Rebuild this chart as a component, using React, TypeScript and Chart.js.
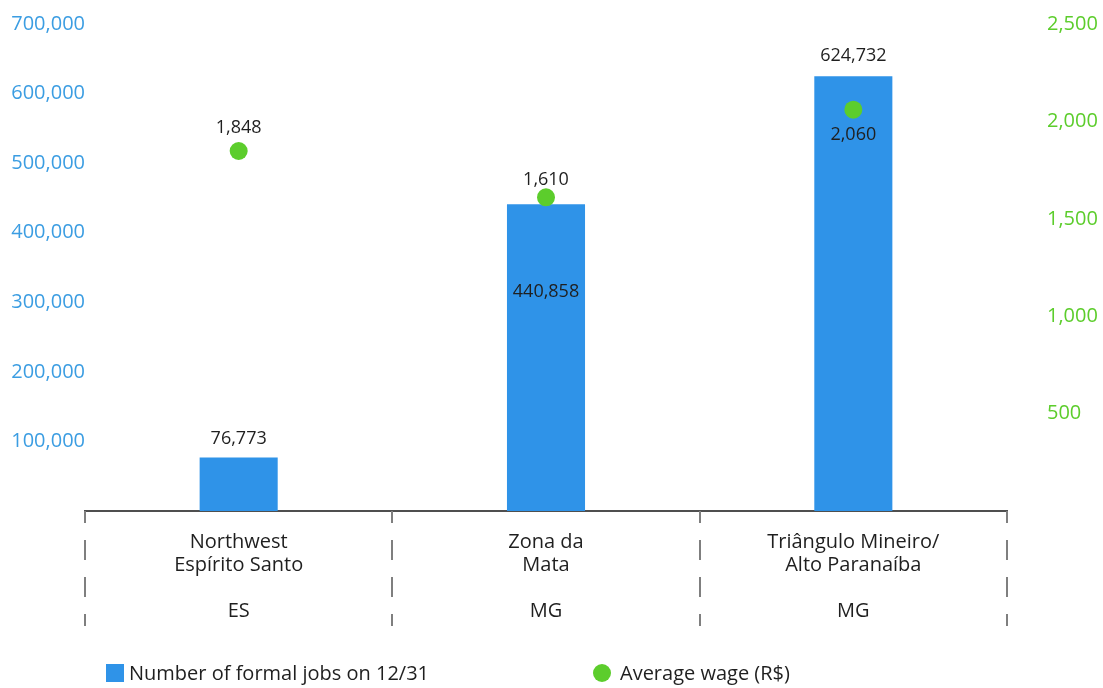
import React, { useEffect, useRef } from "react";
import { Chart, registerables } from "chart.js";

Chart.register(...registerables);

const regions = [
  ["Northwest", "Espírito Santo", "", "ES"],
  ["Zona da", "Mata", "", "MG"],
  ["Triângulo Mineiro/", "Alto Paranaíba", "", "MG"],
];
const formalJobs = [76773, 440858, 624732];
const averageWage = [1848, 1610, 2060];
const jobsTicks = [100000, 200000, 300000, 400000, 500000, 600000, 700000];
const wageTicks = [500, 1000, 1500, 2000, 2500];

const BLUE = "#2f93e8";
const BLUE_TXT = "#3b9de2";
const GREEN = "#5ccd2c";
const FONT = "'Open Sans', 'Noto Sans', sans-serif";
const TXT = "#1f1f1f";

const fmt = (v: number) => v.toLocaleString("en-US");

const overlayPlugin = {
  id: "overlay",
  afterDraw(chart: any) {
    const ctx = chart.ctx;
    const area = chart.chartArea;
    const xs = chart.scales.x;
    ctx.save();
    // dashed category dividers
    ctx.strokeStyle = "#7f7f7f";
    ctx.lineWidth = 2;
    ctx.setLineDash([20, 17]);
    ctx.lineDashOffset = 8;
    for (let i = 0; i <= regions.length; i++) {
      const x = Math.round(xs.getPixelForValue(i - 0.5));
      ctx.beginPath();
      ctx.moveTo(x, area.bottom);
      ctx.lineTo(x, area.bottom + 115);
      ctx.stroke();
    }
    ctx.setLineDash([]);

    // value labels
    ctx.font = `18px ${FONT}`;
    ctx.fillStyle = TXT;
    ctx.textAlign = "center";
    ctx.textBaseline = "middle";
    const barMeta = chart.getDatasetMeta(0);
    const barOffsets = [-19, 88, -20];
    barMeta.data.forEach((el: any, i: number) => {
      ctx.fillText(fmt(formalJobs[i]), el.x, el.y + barOffsets[i]);
    });
    const ptMeta = chart.getDatasetMeta(1);
    const ptOffsets = [-23, -17, 25];
    ptMeta.data.forEach((el: any, i: number) => {
      ctx.fillText(fmt(averageWage[i]), el.x, el.y + ptOffsets[i]);
    });

    // legend
    ctx.font = `20px ${FONT}`;
    ctx.textAlign = "left";
    ctx.fillStyle = BLUE;
    ctx.fillRect(106, 664, 18, 18);
    ctx.fillStyle = TXT;
    ctx.fillText("Number of formal jobs on 12/31", 129, 674);
    ctx.fillStyle = GREEN;
    ctx.beginPath();
    ctx.arc(602, 673, 9, 0, Math.PI * 2);
    ctx.fill();
    ctx.fillStyle = TXT;
    ctx.fillText("Average wage (R$)", 620, 674);
    ctx.restore();
  },
};

export default function App() {
  const ref = useRef<HTMLCanvasElement>(null);
  useEffect(() => {
    if (!ref.current) return;
    const chart = new Chart(ref.current, {
      data: {
        labels: regions,
        datasets: [
          {
            type: "bar",
            label: "Number of formal jobs on 12/31",
            data: formalJobs,
            backgroundColor: BLUE,
            yAxisID: "y",
            categoryPercentage: 1,
            barPercentage: 0.254,
            order: 2,
          },
          {
            type: "line",
            label: "Average wage (R$)",
            data: averageWage,
            yAxisID: "y1",
            showLine: false,
            pointRadius: 9,
            pointBackgroundColor: GREEN,
            pointBorderWidth: 0,
            borderColor: GREEN,
            order: 1,
          },
        ],
      } as any,
      options: {
        animation: false,
        responsive: false,
        devicePixelRatio: 1,
        layout: { padding: { top: 24, left: 0, right: 0, bottom: 0 } },
        plugins: { legend: { display: false }, tooltip: { enabled: false } },
        scales: {
          x: {
            grid: { display: false, drawTicks: false },
            border: { display: true, color: "#4f4f4f", width: 2 },
            ticks: {
              color: TXT,
              font: { family: FONT, size: 20, lineHeight: "23px" } as any,
              padding: 20,
              maxRotation: 0,
              autoSkip: false,
            },
            afterFit(s: any) {
              s.height = 177;
            },
          },
          y: {
            position: "left",
            min: 0,
            max: 700000,
            grid: { display: false, drawTicks: false },
            border: { display: false },
            afterBuildTicks(s: any) {
              s.ticks = jobsTicks.map((v) => ({ value: v }));
            },
            ticks: {
              color: BLUE_TXT,
              font: { family: FONT, size: 20 },
              padding: 0,
              callback: (v: any) => fmt(Number(v)),
            },
            afterFit(s: any) {
              s.width = 85;
            },
          },
          y1: {
            position: "right",
            min: 0,
            max: 2500,
            grid: { display: false, drawTicks: true, tickLength: 40 },
            border: { display: false },
            afterBuildTicks(s: any) {
              s.ticks = wageTicks.map((v) => ({ value: v }));
            },
            ticks: {
              color: GREEN,
              font: { family: FONT, size: 20 },
              padding: 0,
              callback: (v: any) => fmt(Number(v)),
            },
            afterFit(s: any) {
              s.width = 96;
            },
          },
        },
      } as any,
      plugins: [overlayPlugin],
    });
    return () => chart.destroy();
  }, []);
  return (
    <div style={{ position: "fixed", left: 0, top: 0, width: 1103, height: 688, background: "#fff" }}>
      <canvas ref={ref} width={1103} height={688} />
    </div>
  );
}
